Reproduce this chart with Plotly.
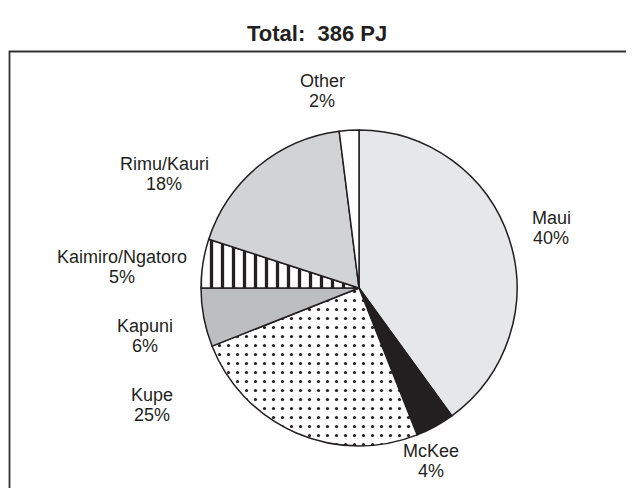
import plotly.graph_objects as go

W, H = 634, 488
OFF = 8  # page body margin: figure is drawn 8px right/down of the window origin

# ---- data ----
fields = ["Maui", "McKee", "Kupe", "Kapuni", "Kaimiro/Ngatoro", "Rimu/Kauri", "Other"]
shares = [40, 4, 25, 6, 5, 18, 2]
total_pj = 386

# ---- styles ----
fill_colors = ["#e6e7e8", "#231f20", "#ffffff", "#bcbec0", "#ffffff", "#d1d3d4", "#ffffff"]
pattern_shapes = ["", "", ".", "", "|", "", ""]
pattern_sizes = [9, 9, 9, 9, 11, 9, 9]
pattern_solid = [0.2, 0.2, 0.1, 0.2, 0.3, 0.2, 0.2]

# label anchor points in window pixels (centre of two-line label)
label_px = {
    "Maui": (551, 228),
    "McKee": (431, 461),
    "Kupe": (152, 405),
    "Kapuni": (145, 336),
    "Kaimiro/Ngatoro": (122, 267),
    "Rimu/Kauri": (164, 174),
    "Other": (322, 91),
}
LINE_GAP = 19.5

cx, cy, r = 359 - OFF, 288 - OFF, 158


def px(x, y):
    return (x - OFF) / W, 1 - (y - OFF) / H


fig = go.Figure(go.Pie(
    labels=fields,
    values=shares,
    sort=False,
    direction="clockwise",
    rotation=0,
    textinfo="none",
    hoverinfo="label+percent",
    showlegend=False,
    domain=dict(x=[(cx - r) / W, (cx + r) / W], y=[(H - cy - r) / H, (H - cy + r) / H]),
    marker=dict(
        colors=fill_colors,
        line=dict(color="#231f20", width=1.5),
        pattern=dict(
            shape=pattern_shapes,
            fgcolor="#231f20",
            bgcolor=fill_colors,
            size=pattern_sizes,
            solidity=pattern_solid,
        ),
    ),
))

label_font = dict(family="Liberation Sans, Arial, sans-serif", size=18, color="#231f20")
annotations = []
for name, val in zip(fields, shares):
    x, y = label_px[name]
    for txt, dy in ((name, -LINE_GAP / 2), (f"{val}%", LINE_GAP / 2)):
        ax, ay = px(x, y + dy)
        annotations.append(dict(
            x=ax, y=ay, xref="paper", yref="paper",
            text=txt, showarrow=False,
            xanchor="center", yanchor="middle", align="center",
            font=label_font,
        ))

tx, ty = px(317, 33)
annotations.append(dict(
    x=tx, y=ty, xref="paper", yref="paper",
    text=f"<b>Total:  {total_pj} PJ</b>", showarrow=False,
    xanchor="center", yanchor="middle",
    font=dict(family="Liberation Sans, Arial, sans-serif", size=22, color="#231f20"),
))

fx0, fy1 = px(9.5, 51.5)
fig.update_layout(
    width=W, height=H,
    margin=dict(l=0, r=0, t=0, b=0),
    paper_bgcolor="white",
    plot_bgcolor="white",
    annotations=annotations,
    shapes=[dict(
        type="rect", xref="paper", yref="paper",
        x0=fx0, x1=1.05, y0=-0.05, y1=fy1,
        line=dict(color="#333333", width=1.8), fillcolor="rgba(0,0,0,0)",
        layer="below",
    )],
)

fig.write_html("out.html")
